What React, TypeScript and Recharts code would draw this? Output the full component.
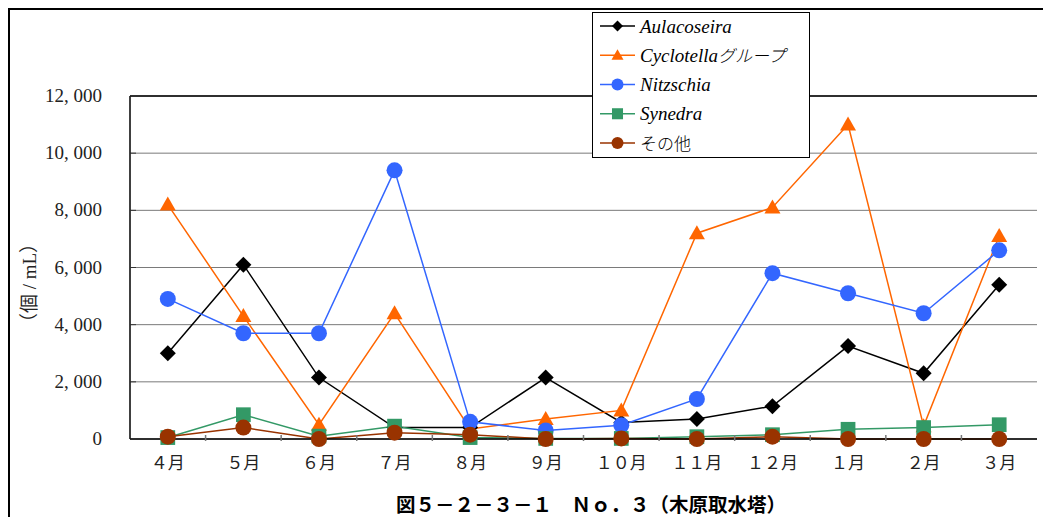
import React from "react";
import {
  LineChart,
  Line,
  XAxis,
  YAxis,
  CartesianGrid,
  ReferenceLine,
} from "recharts";

const months = ["４月", "５月", "６月", "７月", "８月", "９月", "１０月", "１１月", "１２月", "１月", "２月", "３月"];
const aulacoseira = [3000, 6100, 2150, 400, 400, 2150, 580, 700, 1150, 3250, 2300, 5400];
const cyclotella = [8200, 4300, 500, 4400, 350, 700, 1000, 7200, 8100, 11000, 450, 7100];
const nitzschia = [4900, 3700, 3700, 9400, 600, 300, 480, 1400, 5800, 5100, 4400, 6600];
const synedra = [50, 850, 100, 450, 50, 20, 20, 80, 150, 340, 400, 500];
const others = [80, 400, 0, 220, 150, 0, 20, 0, 80, 0, 0, 0];

const yTicks = [0, 2000, 4000, 6000, 8000, 10000, 12000];
const yTickLabels = ["0", "2, 000", "4, 000", "6, 000", "8, 000", "10, 000", "12, 000"];

const seriesNames = ["Aulacoseira", "Cyclotella", "Nitzschia", "Synedra", "その他"];

const data = months.map((m, i) => ({
  month: m,
  Aulacoseira: aulacoseira[i],
  Cyclotella: cyclotella[i],
  Nitzschia: nitzschia[i],
  Synedra: synedra[i],
  その他: others[i],
}));

type Shape = "diamond" | "triangle" | "circle" | "square";

const series: { key: string; color: string; shape: Shape }[] = [
  { key: seriesNames[0], color: "#000000", shape: "diamond" },
  { key: seriesNames[1], color: "#FF6600", shape: "triangle" },
  { key: seriesNames[2], color: "#3366FF", shape: "circle" },
  { key: seriesNames[3], color: "#339966", shape: "square" },
  { key: seriesNames[4], color: "#993300", shape: "circle" },
];

function marker(shape: Shape, color: string, cx: number, cy: number, s: number, key?: any) {
  if (shape === "diamond") {
    return (
      <polygon
        key={key}
        points={`${cx},${cy - s} ${cx + s},${cy} ${cx},${cy + s} ${cx - s},${cy}`}
        fill={color}
      />
    );
  }
  if (shape === "triangle") {
    return (
      <polygon
        key={key}
        points={`${cx},${cy - s} ${cx + s},${cy + s * 0.75} ${cx - s},${cy + s * 0.75}`}
        fill={color}
      />
    );
  }
  if (shape === "square") {
    return <rect key={key} x={cx - s * 0.92} y={cy - s * 0.92} width={s * 1.84} height={s * 1.84} fill={color} />;
  }
  return <circle key={key} cx={cx} cy={cy} r={s} fill={color} />;
}

const makeDot = (shape: Shape, color: string) => (props: any) => {
  const { cx, cy, index } = props;
  if (cx == null || cy == null) return <g key={index} />;
  return marker(shape, color, cx, cy, 8, index);
};

const serifFont = "'Liberation Serif', 'DejaVu Serif', 'Noto Sans CJK JP', serif";

const YTick = (props: any) => {
  const { x, y, payload } = props;
  const i = yTicks.indexOf(payload.value);
  return (
    <g>
      <line x1={x} x2={x + 6} y1={y} y2={y} stroke="#333" strokeWidth={1} />
      <text x={x - 28} y={y + 6} textAnchor="end" fontFamily={serifFont} fontSize={19} fill="#222">
        {yTickLabels[i]}
      </text>
    </g>
  );
};

const XTick = (props: any) => {
  const { x, y, payload, index, width, visibleTicksCount } = props;
  const w = Number(width);
  const n = Number(visibleTicksCount) || months.length;
  const half = w > 0 ? w / n / 2 : 0;
  const isLast = index === months.length - 1;
  return (
    <g>
      {half > 0 && !isLast && (
        <line x1={x + half} x2={x + half} y1={y} y2={y - 6} stroke="#777" strokeWidth={1.5} />
      )}
      <text x={x} y={y + 28} textAnchor="middle" fontFamily={serifFont} fontSize={17} fill="#222">
        {payload.value}
      </text>
    </g>
  );
};

const LegendBox = () => {
  const rowH = 29.25;
  return (
    <svg width={218} height={146} style={{ display: "block" }}>
      <rect x={0.5} y={0.5} width={217} height={145} fill="#fff" stroke="#000" strokeWidth={1} />
      {series.map((s, i) => {
        const cy = 14 + i * rowH;
        return (
          <g key={s.key}>
            <line x1={8} x2={43} y1={cy} y2={cy} stroke={s.color} strokeWidth={1.5} />
            {marker(s.shape, s.color, 25.5, cy, s.shape === "diamond" ? 5.5 : 6)}
            <text
              x={48}
              y={cy + 6.5}
              fontFamily={serifFont}
              fontSize={19}
              fontStyle={s.key === "その他" ? "normal" : "italic"}
              fill="#000"
            >
              {s.key === "Cyclotella" ? (
                <>
                  <tspan fontStyle="italic">Cyclotella</tspan>
                  <tspan fontStyle="italic" fontFamily="'Noto Sans CJK JP'" fontSize={17} fontWeight={300}>グループ</tspan>
                </>
              ) : s.key === "その他" ? (
                <tspan fontFamily="'Noto Sans CJK JP'" fontSize={17} fontWeight={300}>{s.key}</tspan>
              ) : (
                s.key
              )}
            </text>
          </g>
        );
      })}
    </svg>
  );
};

export default function App() {
  return (
    <div style={{ position: "relative", width: 1043, height: 509, overflow: "hidden", background: "#fff" }}>
      <div
        style={{
          position: "absolute",
          left: 0,
          top: 0,
          width: 1100,
          height: 600,
          border: "2px solid #000",
          boxSizing: "border-box",
        }}
      />
      <LineChart
        width={1043}
        height={509}
        data={data}
        margin={{ top: 88, right: 14, left: 0, bottom: 48 }}
        style={{ position: "absolute", left: 0, top: 0 }}
      >
        <CartesianGrid horizontal={true} vertical={false} stroke="#7a7a7a" strokeWidth={1} yAxisId="l" xAxisId="cat" />
        <XAxis
          dataKey="month"
          xAxisId="cat"
          scale="band"
          height={30}
          axisLine={{ stroke: "#000", strokeWidth: 1.5 }}
          tickLine={false}
          tickSize={0}
          tick={<XTick />}
          interval={0}
        />
        <YAxis
          yAxisId="l"
          domain={[0, 12000]}
          ticks={yTicks}
          width={122}
          axisLine={{ stroke: "#000", strokeWidth: 1.5 }}
          tickLine={false}
          tickSize={0}
          tickMargin={0}
          tick={<YTick />}
          interval={0}
        />
        <YAxis
          yAxisId="r"
          orientation="right"
          domain={[0, 12000]}
          width={0}
          tick={false}
          tickLine={false}
          axisLine={{ stroke: "#000", strokeWidth: 1.5 }}
        />
        <ReferenceLine yAxisId="l" xAxisId="cat" y={12000} stroke="#000" strokeWidth={1.5} />
        {series.map((s) => (
          <Line
            key={s.key}
            xAxisId="cat"
            yAxisId="l"
            type="linear"
            dataKey={s.key}
            stroke={s.color}
            strokeWidth={1.5}
            dot={makeDot(s.shape, s.color)}
            activeDot={false}
            isAnimationActive={false}
          />
        ))}
      </LineChart>
      <div style={{ position: "absolute", left: 584, top: 4 }}>
        <LegendBox />
      </div>
      <div
        style={{
          position: "absolute",
          left: 19,
          top: 275,
          transform: "translate(-50%, -50%) rotate(-90deg)",
          fontFamily: serifFont,
          fontSize: 19,
          color: "#222",
          whiteSpace: "nowrap",
        }}
      >
        （個 /  mL）
      </div>
      <div
        style={{
          position: "absolute",
          left: 583,
          top: 495,
          transform: "translate(-50%, -50%)",
          fontFamily: "'Noto Sans CJK JP', sans-serif",
          fontWeight: 700,
          fontSize: 19.5,
          color: "#000",
          whiteSpace: "nowrap",
        }}
      >
        図５－２－３－１　Ｎｏ．３（木原取水塔）
      </div>
    </div>
  );
}
